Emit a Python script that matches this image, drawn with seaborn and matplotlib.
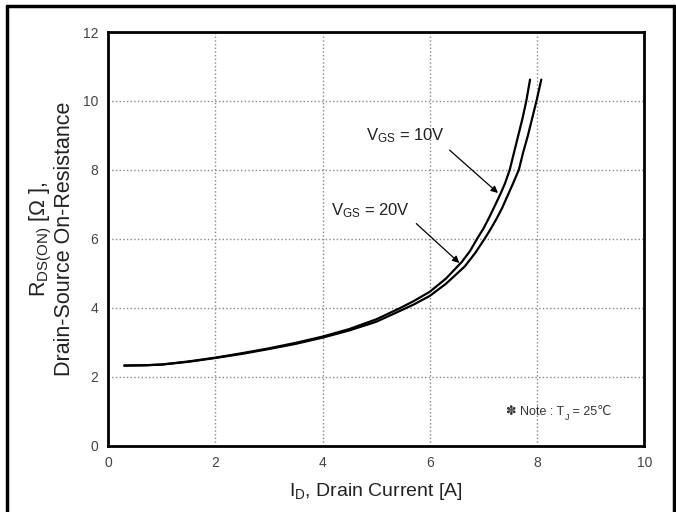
import pandas as pd
import matplotlib
matplotlib.use('Agg')
import matplotlib.pyplot as plt
import seaborn as sns
from matplotlib.lines import Line2D

# curve points
id_10v = [0.3, 0.7, 1.0, 1.5, 2.0, 2.5, 3.0, 3.5, 4.0, 4.5, 5.0, 5.45, 5.7, 6.0, 6.3, 6.6, 6.75,
          6.88, 7.0, 7.1, 7.2, 7.31, 7.4, 7.49, 7.57, 7.65, 7.73, 7.8, 7.87]
rds_10v = [2.33, 2.34, 2.36, 2.45, 2.56, 2.69, 2.83, 2.99, 3.17, 3.39, 3.67, 4.0, 4.2, 4.47, 4.85,
           5.34, 5.65, 6.0, 6.3, 6.6, 6.92, 7.28, 7.6, 8.0, 8.5, 9.0, 9.5, 10.0, 10.62]
id_20v = [0.3, 0.7, 1.0, 1.5, 2.0, 2.5, 3.0, 3.5, 4.0, 4.5, 5.0, 5.45, 5.7, 6.0, 6.3, 6.65, 6.85,
          7.02, 7.14, 7.25, 7.35, 7.45, 7.55, 7.66, 7.74, 7.83, 7.91, 7.99, 8.08]
rds_20v = [2.33, 2.34, 2.36, 2.44, 2.55, 2.67, 2.81, 2.96, 3.14, 3.35, 3.6, 3.92, 4.1, 4.35, 4.7,
           5.2, 5.6, 6.0, 6.3, 6.6, 6.9, 7.25, 7.6, 8.0, 8.5, 9.0, 9.5, 10.0, 10.62]

x_ticks = [0, 2, 4, 6, 8, 10]
y_ticks = [0, 2, 4, 6, 8, 10, 12]

df = pd.concat([
    pd.DataFrame({'ID': id_10v, 'RDS': rds_10v, 'VGS': '10V'}),
    pd.DataFrame({'ID': id_20v, 'RDS': rds_20v, 'VGS': '20V'}),
])

sns.set_style('white')
plt.rcParams['font.family'] = ['Liberation Sans', 'DejaVu Sans']
plt.rcParams['mathtext.fontset'] = 'custom'
plt.rcParams['mathtext.rm'] = 'Liberation Sans'
plt.rcParams['mathtext.it'] = 'Liberation Sans'

fig = plt.figure(figsize=(6.76, 5.12), dpi=100)
ax = fig.add_axes([0.160, 0.129, 0.793, 0.8085])

sns.lineplot(data=df, x='ID', y='RDS', hue='VGS', palette=['black', 'black'],
             sort=False, estimator=None, legend=False, linewidth=1.6, ax=ax)

ax.set_xlim(0, 10)
ax.set_ylim(0, 12)
ax.set_xticks(x_ticks)
ax.set_yticks(y_ticks)
ax.set_xticks([1, 3, 5, 7, 9], minor=True)
ax.set_yticks([1, 3, 5, 7, 9, 11], minor=True)
ax.tick_params(which='major', direction='in', length=5, width=2, labelsize=10,
               labelcolor='#444444', pad=7)
ax.tick_params(which='minor', direction='in', length=4, width=1.5)
ax.grid(True, which='major', color='#888888', linestyle=':', linewidth=1)
for s in ax.spines.values():
    s.set_linewidth(2)
    s.set_color('black')

ax.set_xlabel('I$_\\mathrm{D}$, Drain Current [A]', fontsize=14, color='#222222', labelpad=8)
ax.set_ylabel('R$_\\mathrm{DS(ON)}$ [Ω ],\nDrain-Source On-Resistance', fontsize=15.5,
              color='#222222', labelpad=6, linespacing=1.0)

arrow = dict(arrowstyle='-|>', color='black', lw=0.9, mutation_scale=10)
ax.text(4.81, 8.85, 'V$_\\mathrm{GS}$ = 10V', fontsize=12, color='#222222')
ax.annotate('', xy=(7.31, 7.28), xytext=(6.33, 8.63), arrowprops=arrow)
ax.text(4.16, 6.7, 'V$_\\mathrm{GS}$ = 20V', fontsize=12, color='#222222')
ax.annotate('', xy=(6.59, 5.25), xytext=(5.71, 6.5), arrowprops=arrow)

# note text built in pieces so the symbol glyphs fall back to DejaVu
t1 = ax.text(7.43, 0.99, '✽ Note : T', fontsize=9, color='#333333', va='center')
t2 = ax.annotate('J', xy=(1, 0.4), xycoords=t1, fontsize=6.5, color='#333333',
                 va='top', ha='left')
ax.annotate(' = 25℃', xy=(1, 0.5), xycoords=(t2, t1), fontsize=9, color='#333333',
            va='center', ha='left')

# outer frame of the datasheet cell
for xs, ys in [([0.011, 0.011], [0, 0.988]), ([0.011, 0.997], [0.988, 0.988]),
               ([0.997, 0.997], [0, 0.988])]:
    fig.add_artist(Line2D(xs, ys, color='black', linewidth=2.5, transform=fig.transFigure))

fig.savefig('out.png', dpi=100)
